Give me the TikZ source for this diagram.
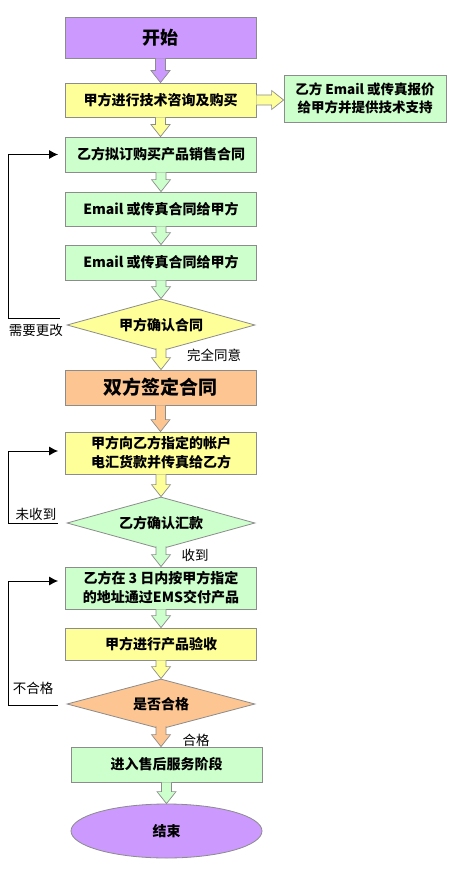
\documentclass[tikz,border=0pt]{standalone}
\usepackage{fontspec}
\setmainfont{Noto Sans CJK SC}
\usetikzlibrary{shapes.geometric,calc,arrows.meta}
\definecolor{cpurple}{HTML}{CC99FF}
\definecolor{cyellow}{HTML}{FFFF99}
\definecolor{cgreen}{HTML}{CCFFCC}
\definecolor{corange}{HTML}{FCC591}
\definecolor{cgray}{HTML}{8C8C8C}
\tikzset{
  box/.style={draw=cgray, line width=0.8pt, minimum width=191pt, minimum height=35pt, inner sep=0pt, align=center,
    font=\fontsize{14}{19}\selectfont\bfseries},
  dia/.style={diamond, draw=cgray, line width=0.8pt, aspect=3.6, minimum width=188pt, minimum height=52pt, inner sep=0pt,
    font=\fontsize{14}{19}\selectfont\bfseries},
  lbl/.style={font=\fontsize{13.5}{16}\selectfont, inner sep=0pt},
  backloop/.style={draw=black, line width=0.9pt, -{Latex[length=9pt,width=9pt]}},
  blk/.style={draw=cgray, line width=0.7pt},
}
\newcommand\dnarrow[4][0pt]{%
  \filldraw[blk, fill=#4] let \p1=([yshift=#1]#2.south), \p2=(#3.north) in
    (\x1-5pt,\y1) -- (\x1-5pt,\y2+12pt) -- (\x1-9.5pt,\y2+12pt) -- (\x1,\y2)
    -- (\x1+9.5pt,\y2+12pt) -- (\x1+5pt,\y2+12pt) -- (\x1+5pt,\y1);}
\newcommand\rtarrow[3]{%
  \filldraw[blk, fill=#3] let \p1=(#1.east), \p2=(#2.west) in
    (\x1,\y1+5pt) -- (\x2-12pt,\y1+5pt) -- (\x2-12pt,\y1+9.5pt) -- (\x2,\y1)
    -- (\x2-12pt,\y1-9.5pt) -- (\x2-12pt,\y1-5pt) -- (\x1,\y1-5pt);}
\begin{document}
\begin{tikzpicture}[x=1pt,y=-1pt]
\useasboundingbox (0,0) rectangle (451,869);
\fill[white] (0,0) rectangle (451,869);

\node[box, fill=cpurple, minimum height=41pt, font=\fontsize{18}{20}\selectfont\bfseries] (start) at (160.5,37.5) {开始};
\node[box, fill=cyellow, minimum height=34pt] (b2) at (160.5,100) {甲方进行技术咨询及购买};
\node[box, fill=cgreen, minimum width=162pt, minimum height=47pt, font=\fontsize{13.5}{18}\selectfont\bfseries] (r) at (365,98.5) {乙方 Email 或传真报价\\给甲方并提供技术支持};
\node[box, fill=cgreen] (b3) at (161,154.5) {乙方拟订购买产品销售合同};
\node[box, fill=cgreen, minimum height=34pt] (b4) at (161,209) {Email 或传真合同给甲方};
\node[box, fill=cgreen] (b5) at (161,262.5) {Email 或传真合同给甲方};
\node[dia, fill=cyellow] (d1) at (161,325) {甲方确认合同};
\node[box, fill=corange, font=\fontsize{19}{21}\selectfont\bfseries] (b6) at (160.5,387.5) {双方签定合同};
\node[box, fill=cyellow, minimum height=42pt] (b7) at (161,453) {甲方向乙方指定的帐户\\电汇货款并传真给乙方};
\node[dia, fill=cgreen] (d2) at (161,523) {乙方确认汇款};
\node[box, fill=cgreen, minimum height=42pt] (b8) at (161,588) {乙方在 3 日内按甲方指定\\的地址通过EMS交付产品};
\node[box, fill=cyellow, minimum height=32pt] (b9) at (161,644) {甲方进行产品验收};
\node[dia, fill=corange, minimum height=50pt] (d3) at (161,704) {是否合格};
\node[box, fill=cgreen] (b10) at (166.5,764.5) {进入售后服务阶段};
\node[ellipse, draw=cgray, line width=0.8pt, fill=cpurple, minimum width=191pt, minimum height=54pt, inner sep=0pt,
  font=\fontsize{14}{16}\selectfont\bfseries] (e) at (166.5,831) {结束};

\dnarrow{start}{b2}{cpurple}
\dnarrow{b2}{b3}{cyellow}
\rtarrow{b2}{r}{cyellow}
\dnarrow{b3}{b4}{cgreen}
\dnarrow{b4}{b5}{cgreen}
\dnarrow{b5}{d1}{cgreen}
\dnarrow[3pt]{d1}{b6}{cyellow}
\dnarrow{b6}{b7}{corange}
\dnarrow{b7}{d2}{cyellow}
\dnarrow[3pt]{d2}{b8}{cgreen}
\dnarrow{b8}{b9}{cgreen}
\dnarrow{b9}{d3}{cyellow}
\dnarrow[3pt]{d3}{b10}{corange}
\dnarrow{b10}{e}{cgreen}

\draw[backloop] ([xshift=-7pt,yshift=7pt]d1.west) -- ++(-51pt,0pt) |- ([xshift=-7pt]b3.west);
\draw[backloop] ([xshift=-9pt]d2.west) -- ++(-49pt,0pt) |- ([xshift=-7pt,yshift=2pt]b7.west);
\draw[backloop] ([xshift=-9pt,yshift=-1pt]d3.west) -- ++(-49pt,0pt) |- ([xshift=-7pt,yshift=7pt]b8.west);

\node[lbl] (l1) at (36,330) {需要更改};
\node[lbl] (l2) at (214,355) {完全同意};
\node[lbl] (l3) at (36,514) {未收到};
\node[lbl] (l4) at (195,555) {收到};
\node[lbl] (l5) at (33,688) {不合格};
\node[lbl] (l6) at (196,740) {合格};
\end{tikzpicture}
\end{document}
